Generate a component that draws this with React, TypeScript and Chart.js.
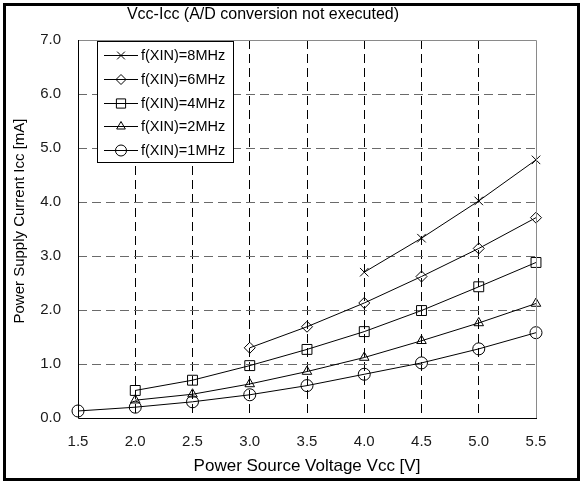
import React, { useEffect, useRef } from "react";
import { Chart, registerables } from "chart.js";
import { drawPoint } from "chart.js/helpers";

Chart.register(...registerables);

// Supply voltage Vcc [V]
const voltages = [1.5, 2.0, 2.5, 3.0, 3.5, 4.0, 4.5, 5.0, 5.5];

// Supply current Icc [mA] per oscillation frequency (null = not measured)
const icc8MHz = [null, null, null, null, null, 2.7, 3.33, 4.02, 4.78];
const icc6MHz = [null, null, null, 1.3, 1.69, 2.13, 2.62, 3.14, 3.71];
const icc4MHz = [null, 0.51, 0.7, 0.97, 1.27, 1.6, 1.99, 2.43, 2.88];
const icc2MHz = [null, 0.33, 0.44, 0.63, 0.86, 1.12, 1.43, 1.76, 2.12];
const icc1MHz = [0.13, 0.2, 0.3, 0.43, 0.6, 0.81, 1.02, 1.28, 1.58];

const seriesLabels = [
  "f(XIN)=8MHz",
  "f(XIN)=6MHz",
  "f(XIN)=4MHz",
  "f(XIN)=2MHz",
  "f(XIN)=1MHz",
];
const seriesValues = [icc8MHz, icc6MHz, icc4MHz, icc2MHz, icc1MHz];
const seriesMarkers = ["crossRot", "rectRot", "rect", "triangle", "circle"];
const markerRadius = [6, 5.5, 7, 5.5, 6];

const titleText = "Vcc-Icc (A/D conversion not executed)";
const xTitle = "Power Source Voltage Vcc [V]";
const yTitle = "Power Supply Current Icc [mA]";

const FONT = "'Liberation Sans', Arial, Helvetica, sans-serif";

const framePlugin = {
  id: "frameAndLegend",
  afterDraw(chart: any) {
    const { ctx, chartArea } = chart;
    const { left, right, top, bottom } = chartArea;
    ctx.save();

    // plot area border: grey on top/right, black axes on left/bottom
    ctx.setLineDash([]);
    ctx.lineWidth = 1;
    ctx.strokeStyle = "#8a8a8a";
    ctx.beginPath();
    ctx.moveTo(left, top + 0.5);
    ctx.lineTo(right + 0.5, top + 0.5);
    ctx.lineTo(right + 0.5, bottom);
    ctx.stroke();
    ctx.strokeStyle = "#000";
    ctx.beginPath();
    ctx.moveTo(left + 0.5, top);
    ctx.lineTo(left + 0.5, bottom + 0.5);
    ctx.lineTo(right + 1, bottom + 0.5);
    ctx.stroke();

    // outer frame
    ctx.lineWidth = 3;
    ctx.strokeStyle = "#000";
    ctx.strokeRect(4.5, 4.5, 574, 475);

    // chart title
    ctx.fillStyle = "#000";
    ctx.font = `16px ${FONT}`;
    ctx.textAlign = "center";
    ctx.textBaseline = "middle";
    ctx.fillText(titleText, 263, 15);

    // y axis title
    ctx.save();
    ctx.translate(20, 221);
    ctx.rotate(-Math.PI / 2);
    ctx.font = `15px ${FONT}`;
    ctx.fillText(yTitle, 0, 0);
    ctx.restore();

    // legend box
    const bx = 97, by = 41, bw = 136, bh = 121;
    ctx.fillStyle = "#fff";
    ctx.fillRect(bx, by, bw, bh);
    ctx.lineWidth = 1;
    ctx.strokeStyle = "#000";
    ctx.strokeRect(bx + 0.5, by + 0.5, bw, bh);

    ctx.font = `14.5px ${FONT}`;
    ctx.textAlign = "left";
    seriesLabels.forEach((label, i) => {
      const y = Math.round(55 + i * 23.8) + 0.5;
      ctx.strokeStyle = "#000";
      ctx.lineWidth = 1;
      ctx.beginPath();
      ctx.moveTo(104, y);
      ctx.lineTo(138, y);
      ctx.stroke();
      ctx.fillStyle = "rgba(0,0,0,0)";
      drawPoint(
        ctx,
        { pointStyle: seriesMarkers[i], radius: markerRadius[i] - 0.5, rotation: 0, borderWidth: 1 },
        121,
        y
      );
      ctx.fillStyle = "#000";
      ctx.fillText(label, 141, y + 0.5);
    });

    ctx.restore();
  },
};

export default function App() {
  const canvasRef = useRef<HTMLCanvasElement | null>(null);

  useEffect(() => {
    const canvas = canvasRef.current;
    if (!canvas) return;

    const datasets = seriesValues.map((vals, i) => ({
      label: seriesLabels[i],
      data: voltages.map((v, j) => ({ x: v, y: vals[j] })),
      borderColor: "#000",
      borderWidth: 1,
      backgroundColor: "rgba(0,0,0,0)",
      pointStyle: seriesMarkers[i],
      pointRadius: markerRadius[i],
      pointBorderColor: "#000",
      pointBackgroundColor: "rgba(0,0,0,0)",
      pointBorderWidth: 1,
      tension: 0,
      spanGaps: false,
      clip: false,
    }));

    const edgeTransparent = (color: string) => (c: any) => {
      const n = c.scale.ticks.length;
      return c.index === 0 || c.index === n - 1 ? "rgba(0,0,0,0)" : color;
    };

    const chart = new Chart(canvas, {
      type: "line",
      data: { datasets },
      plugins: [framePlugin],
      options: {
        responsive: false,
        animation: false,
        layout: { padding: { top: 40, right: 46, left: 0, bottom: 0 } },
        plugins: {
          legend: { display: false },
          title: { display: false },
          tooltip: { enabled: false },
        },
        scales: {
          x: {
            type: "linear",
            min: 1.5,
            max: 5.5,
            afterFit: (s: any) => {
              s.height = 64;
            },
            ticks: {
              stepSize: 0.5,
              padding: 15,
              color: "#1a1a1a",
              font: { family: FONT, size: 15 },
              callback: (v: any) => Number(v).toFixed(1),
            },
            grid: {
              drawTicks: false,
              color: edgeTransparent("#000"),
              lineWidth: 1,
            },
            border: { display: false, dash: [9, 5] },
            title: {
              display: true,
              text: xTitle,
              color: "#000",
              font: { family: FONT, size: 17 },
              padding: { top: 0, bottom: 5 },
            },
          },
          y: {
            type: "linear",
            min: 0,
            max: 7,
            afterFit: (s: any) => {
              s.width = 78;
            },
            ticks: {
              stepSize: 1,
              padding: 17,
              color: "#1a1a1a",
              font: { family: FONT, size: 15 },
              callback: (v: any) => Number(v).toFixed(1),
            },
            grid: {
              drawTicks: false,
              color: edgeTransparent("#6a6a6a"),
              lineWidth: 1,
            },
            border: { display: false, dash: [9, 5] },
          },
        },
      },
    });

    return () => chart.destroy();
  }, []);

  return (
    <div style={{ position: "fixed", left: 0, top: 0, width: 582, height: 482, background: "#fff" }}>
      <canvas ref={canvasRef} width={582} height={482} style={{ display: "block" }} />
    </div>
  );
}
